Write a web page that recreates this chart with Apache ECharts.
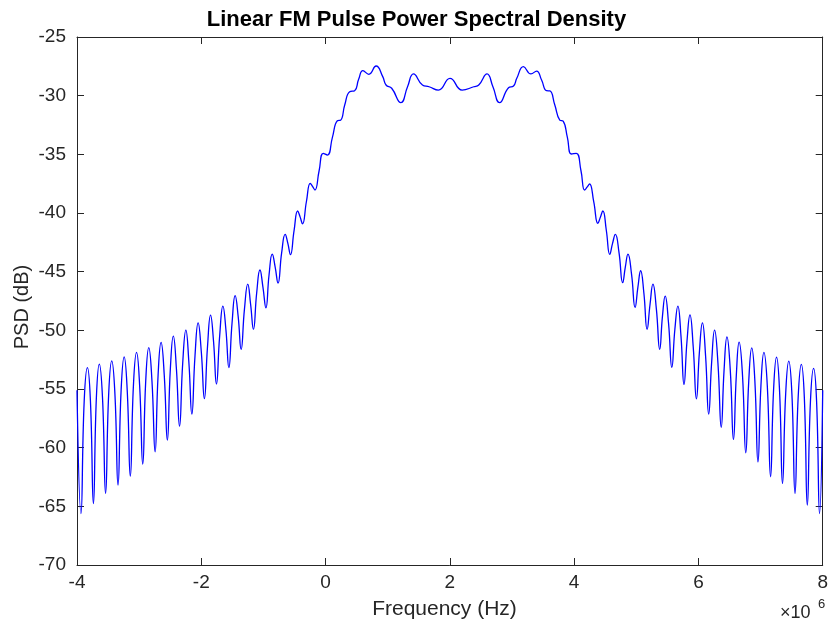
<!DOCTYPE html>
<html>
<head>
<meta charset="utf-8">
<script src="https://cdn.jsdelivr.net/npm/echarts/dist/echarts.min.js"></script>
<style>html,body{margin:0;padding:0;background:#fff;overflow:hidden}#c{width:831px;height:623px}</style>
</head>
<body>
<div id="c"></div>
<script>
// Frequency in MHz (axis shown with x10^6 multiplier), PSD in dB
const freqLeft = [-4.000,-3.936,-3.884,-3.832,-3.784,-3.736,-3.688,-3.641,-3.590,-3.540,-3.490,-3.441,-3.390,-3.340,-3.290,-3.241,-3.192,-3.142,-3.092,-3.042,-2.992,-2.942,-2.894,-2.845,-2.794,-2.743,-2.695,-2.647,-2.596,-2.546,-2.498,-2.450,-2.400,-2.350,-2.299,-2.248,-2.200,-2.152,-2.101,-2.051,-2.000,-1.950,-1.900,-1.851,-1.803,-1.756,-1.704,-1.652,-1.604,-1.556,-1.505,-1.455,-1.407,-1.359,-1.305,-1.252,-1.206,-1.161,-1.108,-1.056,-1.008,-0.960,-0.909,-0.858,-0.811,-0.765,-0.707,-0.650,-0.607,-0.565,-0.507,-0.449,-0.410,-0.371,-0.308,-0.246,-0.208,-0.171,-0.104];
const psdLeft = [-55.1,-65.61,-56.0,-53.18,-56.0,-64.77,-55.7,-52.88,-55.7,-63.90,-55.4,-52.60,-55.4,-63.19,-55.1,-52.26,-55.1,-62.43,-54.7,-51.88,-54.7,-61.40,-54.3,-51.47,-54.3,-60.35,-53.8,-51.03,-53.8,-59.36,-53.3,-50.49,-53.3,-58.16,-52.8,-49.98,-52.7,-57.14,-52.16,-49.36,-51.81,-55.82,-51.40,-48.70,-50.93,-54.58,-50.46,-47.93,-49.93,-53.18,-49.38,-47.05,-48.79,-51.62,-48.17,-46.06,-47.80,-49.92,-46.78,-44.86,-46.31,-48.08,-45.24,-43.50,-44.61,-45.97,-43.40,-41.82,-42.59,-43.54,-41.50,-39.83,-40.33,-40.92,-39.02,-37.47,-37.75,-38.04,-36.40];

const freqBand = [-0.038,0.030,0.110,0.190,0.244,0.308,0.388,0.468,0.532,0.601,0.696,0.813,0.920,0.973,1.064,1.212,1.319,1.415,1.559,1.666,1.815,2.002,2.198,2.385,2.465,2.598,2.693,2.800,2.944,3.024,3.077,3.184,3.305,3.396,3.476,3.556,3.609,3.689,3.769,3.823,3.891,3.955,4.035,4.110];
const psdBand = [-34.91,-35.06,-33.55,-32.14,-32.08,-30.80,-29.66,-29.58,-28.61,-27.87,-28.18,-27.47,-28.38,-29.09,-29.37,-30.60,-29.24,-28.15,-29.09,-29.24,-29.52,-28.52,-29.52,-29.24,-29.09,-28.15,-29.24,-30.60,-29.32,-29.18,-28.52,-27.53,-28.15,-27.90,-28.67,-29.58,-29.60,-30.80,-32.08,-32.16,-33.55,-34.97,-34.91,-36.40];

const freqRight = [4.168,4.208,4.248,4.315,4.382,4.422,4.462,4.518,4.573,4.618,4.663,4.722,4.781,4.824,4.866,4.924,4.981,5.026,5.070,5.122,5.174,5.221,5.268,5.323,5.377,5.421,5.465,5.519,5.572,5.621,5.669,5.719,5.768,5.816,5.864,5.916,5.968,6.016,6.064,6.115,6.165,6.213,6.260,6.314,6.367,6.413,6.459,6.512,6.564,6.610,6.655,6.709,6.762,6.810,6.858,6.908,6.958,7.006,7.054,7.108,7.161,7.209,7.257,7.305,7.353,7.404,7.454,7.504,7.554,7.605,7.656,7.704,7.752,7.803,7.853,7.901,7.949,8.000];
const psdRight = [-38.04,-37.80,-37.53,-39.03,-40.88,-40.36,-39.83,-41.49,-43.52,-42.59,-41.82,-43.38,-45.93,-44.59,-43.50,-45.23,-48.04,-46.32,-44.92,-46.82,-49.92,-47.80,-46.06,-48.17,-51.62,-48.81,-47.08,-49.39,-53.15,-49.91,-47.93,-50.47,-54.61,-50.93,-48.68,-51.40,-55.84,-51.82,-49.36,-52.16,-57.14,-52.70,-49.98,-52.80,-58.27,-53.35,-50.55,-53.35,-59.30,-53.80,-51.00,-53.80,-60.44,-54.30,-51.49,-54.30,-61.21,-54.70,-51.88,-54.70,-62.48,-55.10,-52.28,-55.10,-63.05,-55.40,-52.62,-55.40,-63.90,-55.70,-52.90,-55.70,-64.90,-56.00,-53.24,-56.00,-65.61,-55.10];

const xTicks = [-4, -2, 0, 2, 4, 6, 8];
const yTicks = [-70, -65, -60, -55, -50, -45, -40, -35, -30, -25];

const titleText = 'Linear FM Pulse Power Spectral Density';
const xName = 'Frequency (Hz)';
const yName = 'PSD (dB)';

const freq = freqLeft.concat(freqBand, freqRight);
const psd = psdLeft.concat(psdBand, psdRight);
const data = freq.map((f, i) => [f, psd[i]]);

const FONT = "'Liberation Sans', Arial, Helvetica, sans-serif";
const AX = '#262626';
const TICKFS = 19;

const chart = echarts.init(document.getElementById('c'), null, {renderer: 'canvas', width: 831, height: 623});

function axis(extra, showLabel, margin) {
  return Object.assign({
    type: 'value',
    axisLine: {show: true, onZero: false, lineStyle: {color: AX, width: 1}},
    axisTick: {show: true, inside: true, length: 7, lineStyle: {color: AX, width: 1}},
    splitLine: {show: false},
    axisLabel: {show: showLabel, color: AX, fontFamily: FONT, fontSize: TICKFS, margin: margin || 8},
  }, extra);
}

chart.setOption({
  animation: false,
  backgroundColor: '#fff',
  grid: {left: 77, top: 37, width: 751, height: 528, containLabel: false},
  xAxis: [
    axis({position: 'bottom', min: xTicks[0], max: xTicks[xTicks.length-1], interval: 2}, true, 8),
    axis({position: 'top', min: xTicks[0], max: xTicks[xTicks.length-1], interval: 2}, false)
  ],
  yAxis: [
    axis({position: 'left', min: yTicks[0], max: yTicks[yTicks.length-1], interval: 5}, true, 11),
    axis({position: 'right', min: yTicks[0], max: yTicks[yTicks.length-1], interval: 5}, false)
  ],
  series: [{
    type: 'line',
    xAxisIndex: 0, yAxisIndex: 0,
    data: data,
    showSymbol: false,
    smooth: 0.5,
    clip: true,
    lineStyle: {color: '#0000ff', width: 1.3},
  }],
  graphic: [
    {type: 'text', x: 416.5, y: 20, style: {text: titleText, font: "bold 22px " + FONT, fill: '#000', align: 'center', verticalAlign: 'middle', textAlign: 'center', textVerticalAlign: 'middle'}},
    {type: 'text', x: 444.5, y: 609, style: {text: xName, font: "21px " + FONT, fill: AX, align: 'center', verticalAlign: 'middle', textAlign: 'center', textVerticalAlign: 'middle'}},
    {type: 'text', x: 22, y: 307, rotation: Math.PI / 2, style: {text: yName, font: "20px " + FONT, fill: AX, align: 'center', verticalAlign: 'middle', textAlign: 'center', textVerticalAlign: 'middle'}},
    {type: 'text', x: 780, y: 613, style: {text: '×10', font: "18px " + FONT, fill: AX, align: 'left', verticalAlign: 'middle', textAlign: 'left', textVerticalAlign: 'middle'}},
    {type: 'text', x: 818, y: 604, style: {text: '6', font: "13px " + FONT, fill: AX, align: 'left', verticalAlign: 'middle', textAlign: 'left', textVerticalAlign: 'middle'}}
  ]
});
</script>
</body>
</html>
